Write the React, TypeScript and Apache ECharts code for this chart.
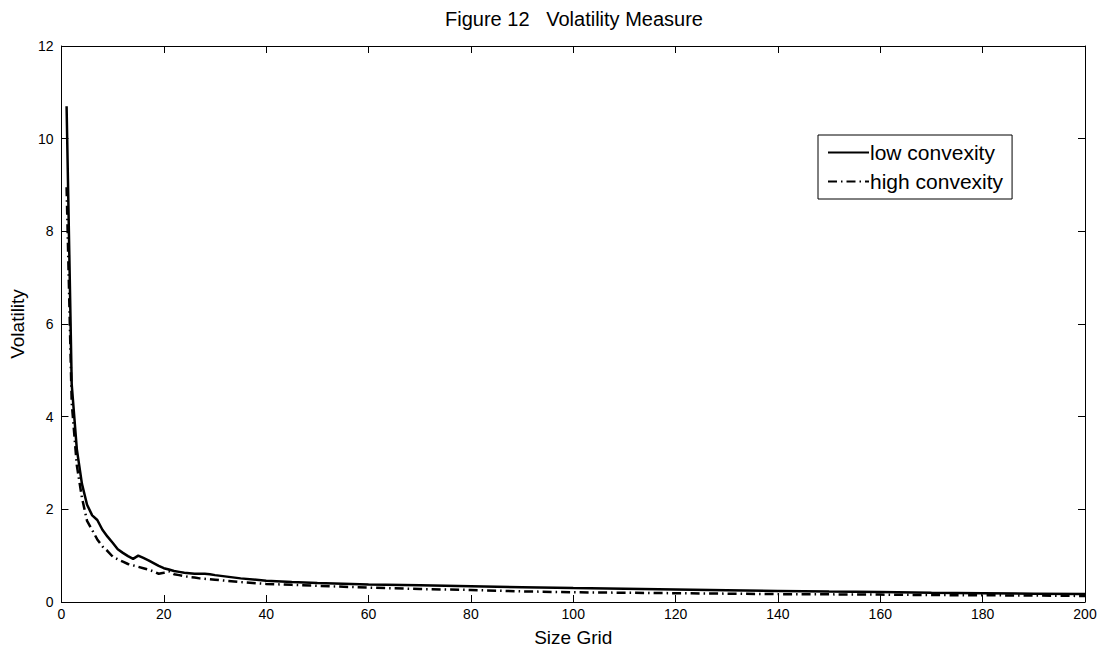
import React, { useEffect, useRef } from "react";
import * as echarts from "echarts";

const xs = [1, 2, 3, 4, 5, 6, 7, 8, 9, 10, 11, 12, 13, 14, 15, 16, 17, 18, 19, 20, 21, 22, 23, 24, 25, 26, 27, 28, 29, 30, 35, 40, 45, 50, 60, 70, 80, 90, 100, 110, 120, 130, 140, 150, 160, 170, 180, 190, 200];

const lowConvexity = [10.7, 4.7, 3.3, 2.55, 2.1, 1.87, 1.77, 1.56, 1.41, 1.28, 1.14, 1.06, 0.99, 0.93, 1.0, 0.95, 0.9, 0.84, 0.78, 0.73, 0.7, 0.67, 0.65, 0.63, 0.62, 0.61, 0.61, 0.61, 0.6, 0.58, 0.51, 0.46, 0.43, 0.41, 0.38, 0.36, 0.34, 0.32, 0.3, 0.285, 0.27, 0.255, 0.24, 0.225, 0.215, 0.2, 0.19, 0.18, 0.17];

const highConvexity = [8.95, 4.3, 2.95, 2.25, 1.75, 1.55, 1.35, 1.2, 1.1, 0.98, 0.92, 0.87, 0.82, 0.79, 0.76, 0.73, 0.7, 0.66, 0.61, 0.63, 0.66, 0.6, 0.58, 0.56, 0.54, 0.53, 0.51, 0.5, 0.49, 0.48, 0.43, 0.39, 0.37, 0.35, 0.31, 0.28, 0.26, 0.23, 0.21, 0.2, 0.19, 0.18, 0.17, 0.165, 0.16, 0.15, 0.145, 0.14, 0.13];

const seriesNames = ["low convexity", "high convexity"];
const FONT = "Liberation Sans, Arial, sans-serif";

export default function App() {
  const ref = useRef<HTMLDivElement>(null);
  useEffect(() => {
    if (!ref.current) return;
    const chart = echarts.init(ref.current, null, { renderer: "svg" });
    const axisCommon = {
      axisLine: { show: true, onZero: false, lineStyle: { color: "#000", width: 1 } },
      axisTick: { show: true, inside: true, length: 7, lineStyle: { color: "#000" } },
      splitLine: { show: false },
    };
    chart.setOption({
      animation: false,
      backgroundColor: "#fff",
      title: {
        text: "Figure 12   Volatility Measure",
        left: 569,
        top: 4,
        textAlign: "center",
        textStyle: { fontFamily: FONT, fontSize: 20, fontWeight: "normal", color: "#000" },
      },
      legend: {
        orient: "vertical",
        left: 818,
        top: 135,
        padding: [7, 9, 7, 9],
        itemGap: 8,
        itemWidth: 41,
        itemHeight: 14,
        borderColor: "#000",
        borderWidth: 1,
        borderRadius: 0,
        backgroundColor: "#fff",
        itemStyle: { opacity: 0 },
        textStyle: { fontFamily: FONT, fontSize: 21, color: "#000", padding: [0, 0, 0, -4] },
        data: seriesNames,
      },
      grid: { left: 55, right: 20, top: 46, bottom: 50, containLabel: false },
      xAxis: [
        {
          type: "value",
          min: 0,
          max: 200,
          interval: 20,
          name: "Size Grid",
          nameLocation: "middle",
          nameGap: 26,
          nameTextStyle: { fontFamily: FONT, fontSize: 19, color: "#000" },
          axisLabel: { fontFamily: FONT, fontSize: 14, color: "#000", margin: 5 },
          ...axisCommon,
        },
        {
          type: "value",
          position: "top",
          min: 0,
          max: 200,
          interval: 20,
          axisLabel: { show: false },
          ...axisCommon,
        },
      ],
      yAxis: [
        {
          type: "value",
          min: 0,
          max: 12,
          interval: 2,
          name: "Volatility",
          nameLocation: "middle",
          nameGap: 33,
          nameTextStyle: { fontFamily: FONT, fontSize: 19, color: "#000" },
          axisLabel: { fontFamily: FONT, fontSize: 14, color: "#000", margin: 8 },
          ...axisCommon,
        },
        {
          type: "value",
          position: "right",
          min: 0,
          max: 12,
          interval: 2,
          axisLabel: { show: false },
          ...axisCommon,
        },
      ],
      series: [
        {
          name: seriesNames[0],
          type: "line",
          showSymbol: false,
          symbol: "none",
          data: xs.map((x, i) => [x, lowConvexity[i]]),
          lineStyle: { color: "#000", width: 2.5, type: "solid" },
          itemStyle: { color: "#000" },
          z: 3,
        },
        {
          name: seriesNames[1],
          type: "line",
          showSymbol: false,
          symbol: "none",
          data: xs.map((x, i) => [x, highConvexity[i]]),
          lineStyle: { color: "#000", width: 2.5, type: [9, 4, 1.5, 4] },
          itemStyle: { color: "#000" },
          z: 2,
        },
      ],
    });
    return () => chart.dispose();
  }, []);
  return (
    <div
      ref={ref}
      style={{ position: "fixed", left: 0, top: 0, width: 1105, height: 652, background: "#fff" }}
    />
  );
}
